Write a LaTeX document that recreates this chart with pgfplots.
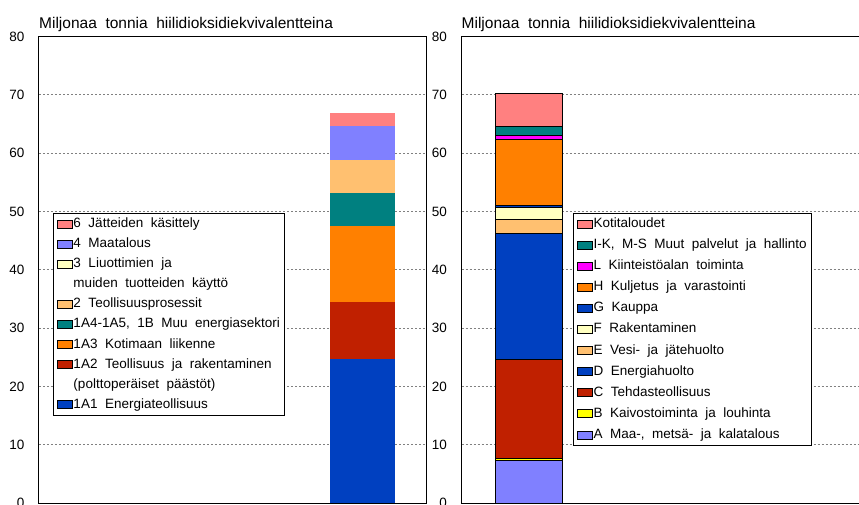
\documentclass[border=0pt]{standalone}
\usepackage{pgfplots}
\pgfplotsset{compat=1.18}
\usepackage{fontspec}
\setmainfont{Liberation Sans}[WordSpace=2]
\definecolor{cblue}{HTML}{0040C0}
\definecolor{cred}{HTML}{C02000}
\definecolor{corange}{HTML}{FF8000}
\definecolor{cteal}{HTML}{008080}
\definecolor{clorange}{HTML}{FFC070}
\definecolor{clyellow}{HTML}{FFFFC0}
\definecolor{clav}{HTML}{8080FF}
\definecolor{cpink}{HTML}{FF8080}
\definecolor{cmag}{HTML}{FF00FF}
\definecolor{cyel}{HTML}{FFFF00}
\newcommand{\fs}{\fontsize{13.5}{16}\selectfont}
\newcommand{\ft}{\fontsize{15.5}{18}\selectfont}

\pgfplotsset{
  panel/.style={
    scale only axis,
    height=466.5pt,
    ymin=0, ymax=80,
    ytick={0,10,...,80},
    xtick=\empty,
    tick style={draw=none},
    ymajorgrids,
    grid style={gray, line width=0.8pt, dash pattern=on 2pt off 2pt},
    axis line style={line width=1pt},
    ybar stacked,
    clip mode=individual,
    /pgf/number format/assume math mode=true,
    yticklabel style={font=\fs, xshift=-11pt},
    legend cell align=left,
    legend image code/.code={\draw[##1, line width=0.8pt] (0pt,-4pt) rectangle (15pt,4pt);},
    legend style={draw=black, line width=1pt, font=\fs, anchor=north west,
      inner xsep=3.5pt, inner ysep=3pt,
      nodes={inner sep=1pt, text height=10pt, text depth=3pt}},
  }
}

\begin{document}
\begin{tikzpicture}
\useasboundingbox (0,-505pt) rectangle (859pt,0);
\clip (0,-505pt) rectangle (859pt,0);

% vasen: paastolahteet
\begin{axis}[panel,
  at={(39pt,-503pt)}, anchor=south west,
  width=387pt, xmin=0, xmax=387,
  bar width=65pt,
  legend style={at={(0.0354,0.6217)}, row sep=5.1pt},
]
\addlegendimage{fill=cpink, draw=black}
\addlegendimage{fill=clav, draw=black}
\addlegendimage{fill=clyellow, draw=black}
\addlegendimage{empty legend}
\addlegendimage{fill=clorange, draw=black}
\addlegendimage{fill=cteal, draw=black}
\addlegendimage{fill=corange, draw=black}
\addlegendimage{fill=cred, draw=black}
\addlegendimage{empty legend}
\addlegendimage{fill=cblue, draw=black}

\addplot[fill=cblue, draw=none] coordinates {(323.5,24.7)};
\addplot[fill=cred, draw=none] coordinates {(323.5,9.7)};
\addplot[fill=corange, draw=none] coordinates {(323.5,13.1)};
\addplot[fill=cteal, draw=none] coordinates {(323.5,5.7)};
\addplot[fill=clorange, draw=none] coordinates {(323.5,5.65)};
\addplot[fill=clyellow, draw=none] coordinates {(323.5,0.05)};
\addplot[fill=clav, draw=none] coordinates {(323.5,5.75)};
\addplot[fill=cpink, draw=none] coordinates {(323.5,2.3)};

\legend{6 Jätteiden käsittely, 4 Maatalous, 3 Liuottimien ja,
  muiden tuotteiden käyttö, 2 Teollisuusprosessit,
  {1A4-1A5, 1B Muu energiasektori}, 1A3 Kotimaan liikenne,
  1A2 Teollisuus ja rakentaminen, (polttoperäiset päästöt),
  1A1 Energiateollisuus}

\node[anchor=base west, inner sep=0pt, font=\ft] at (rel axis cs:0,1) [yshift=8.5pt]
  {Miljonaa tonnia hiilidioksidiekvivalentteina};
\end{axis}

% oikea: toimialat
\begin{axis}[panel,
  at={(461.5pt,-503pt)}, anchor=south west,
  width=420pt, xmin=0, xmax=420,
  bar width=67pt,
  legend style={at={(0.2648,0.6217)}, row sep=6.1pt},
]
\addlegendimage{fill=cpink, draw=black}
\addlegendimage{fill=cteal, draw=black}
\addlegendimage{fill=cmag, draw=black}
\addlegendimage{fill=corange, draw=black}
\addlegendimage{fill=cblue, draw=black}
\addlegendimage{fill=clyellow, draw=black}
\addlegendimage{fill=clorange, draw=black}
\addlegendimage{fill=cblue, draw=black}
\addlegendimage{fill=cred, draw=black}
\addlegendimage{fill=cyel, draw=black}
\addlegendimage{fill=clav, draw=black}

\addplot[fill=clav, draw=black, line width=1pt] coordinates {(67,7.3)};
\addplot[fill=cyel, draw=black, line width=1pt] coordinates {(67,0.35)};
\addplot[fill=cred, draw=black, line width=1pt] coordinates {(67,16.95)};
\addplot[fill=cblue, draw=black, line width=1pt] coordinates {(67,21.7)};
\addplot[fill=clorange, draw=black, line width=1pt] coordinates {(67,2.4)};
\addplot[fill=clyellow, draw=black, line width=1pt] coordinates {(67,2.0)};
\addplot[fill=cblue, draw=black, line width=1pt] coordinates {(67,0.3)};
\addplot[fill=corange, draw=black, line width=1pt] coordinates {(67,11.3)};
\addplot[fill=cmag, draw=black, line width=1pt] coordinates {(67,0.7)};
\addplot[fill=cteal, draw=black, line width=1pt] coordinates {(67,1.6)};
\addplot[fill=cpink, draw=black, line width=1pt] coordinates {(67,5.6)};

\legend{Kotitaloudet, {I-K, M-S Muut palvelut ja hallinto},
  L Kiinteistöalan toiminta, H Kuljetus ja varastointi, G Kauppa,
  F Rakentaminen, E Vesi- ja jätehuolto, D Energiahuolto,
  C Tehdasteollisuus, B Kaivostoiminta ja louhinta,
  {A Maa-, metsä- ja kalatalous}}

\node[anchor=base west, inner sep=0pt, font=\ft] at (rel axis cs:0,1) [yshift=8.5pt]
  {Miljonaa tonnia hiilidioksidiekvivalentteina};
\end{axis}
\end{tikzpicture}
\end{document}
